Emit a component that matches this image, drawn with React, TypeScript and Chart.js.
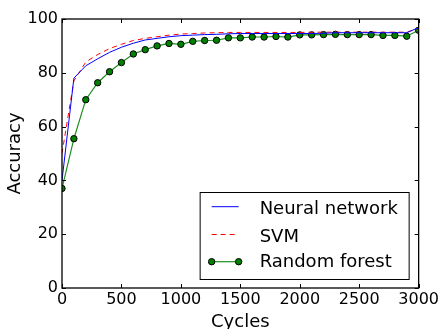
import React, { useEffect, useRef } from "react";
import { Chart, registerables } from "chart.js";

Chart.register(...registerables);

const cycles = [
  0, 100, 200, 300, 400, 500, 600, 700, 800, 900, 1000, 1100, 1200, 1300, 1400, 1500,
  1600, 1700, 1800, 1900, 2000, 2100, 2200, 2300, 2400, 2500, 2600, 2700, 2800, 2900, 3000,
];
const neuralNetwork = [
  40, 78, 82.6, 85.2, 87.6, 89.5, 91.0, 92.2, 92.8, 93.4, 93.8, 94.0, 94.2, 94.3, 94.5, 94.6,
  94.6, 94.6, 94.6, 94.6, 94.6, 94.6, 94.7, 94.9, 94.9, 94.9, 94.9, 94.9, 94.9, 94.9, 96.8,
];
const svm = [
  50, 77, 84, 86.8, 89, 90.6, 92.0, 92.8, 93.4, 94.0, 94.4, 94.6, 94.8, 94.9, 95.0, 95.0,
  95.0, 95.0, 95.0, 95.0, 95.0, 95.1, 95.1, 95.1, 95.1, 95.1, 95.1, 95.1, 95.1, 95.1, 96.6,
];
const randomForest = [
  37, 55.5, 70, 76.3, 80.4, 83.8, 87.0, 88.6, 90.0, 90.9, 90.6, 91.7, 92.0, 92.1, 93.0, 93.0,
  93.3, 93.3, 93.5, 93.3, 94.1, 94.1, 94.2, 94.3, 94.2, 94.2, 94.2, 93.9, 93.9, 93.6, 95.8,
];
const seriesNames = ["Neural network", "SVM", "Random forest"];
const xTicks = [0, 500, 1000, 1500, 2000, 2500, 3000];
const yTicks = [0, 20, 40, 60, 80, 100];
const xLabel = "Cycles";
const yLabel = "Accuracy";

const FONT = "'DejaVu Sans', sans-serif";

export default function App() {
  const ref = useRef<HTMLCanvasElement>(null);

  useEffect(() => {
    const canvas = ref.current;
    if (!canvas) return;

    const framePlugin = {
      id: "frameTicks",
      afterDatasetsDraw(chart: any) {
        const { ctx, chartArea: a, scales } = chart;
        ctx.save();
        ctx.strokeStyle = "#000";
        ctx.lineWidth = 1;
        ctx.beginPath();
        for (const v of xTicks) {
          const x = Math.round(scales.x.getPixelForValue(v)) + 0.5;
          ctx.moveTo(x, a.bottom);
          ctx.lineTo(x, a.bottom - 4);
          ctx.moveTo(x, a.top);
          ctx.lineTo(x, a.top + 4);
        }
        for (const v of yTicks) {
          const y = Math.round(scales.y.getPixelForValue(v)) + 0.5;
          ctx.moveTo(a.left, y);
          ctx.lineTo(a.left + 4, y);
          ctx.moveTo(a.right, y);
          ctx.lineTo(a.right - 4, y);
        }
        ctx.stroke();
        ctx.lineWidth = 1.3;
        ctx.strokeRect(a.left, a.top, a.right - a.left, a.bottom - a.top);
        ctx.restore();
      },
    };

    const legendPlugin = {
      id: "boxLegend",
      afterDraw(chart: any) {
        const { ctx, chartArea: a } = chart;
        const right = a.right - 10;
        const bottom = a.bottom - 9;
        const left = right - 209;
        const top = bottom - 87;
        ctx.save();
        ctx.fillStyle = "#fff";
        ctx.fillRect(left, top, right - left, bottom - top);
        ctx.strokeStyle = "#000";
        ctx.lineWidth = 1;
        ctx.strokeRect(left + 0.5, top + 0.5, right - left, bottom - top);
        const rows = [14.7, 42.5, 69.7];
        const baselines = [22, 49.7, 75.3];
        chart.data.datasets.forEach((ds: any, i: number) => {
          const y = top + rows[i];
          ctx.save();
          ctx.strokeStyle = ds.borderColor;
          ctx.lineWidth = ds.borderWidth;
          ctx.setLineDash(ds.borderDash || []);
          ctx.beginPath();
          ctx.moveTo(left + 12, y);
          ctx.lineTo(left + 39, y);
          ctx.stroke();
          ctx.restore();
          if (ds.pointRadius > 0) {
            for (const px of [left + 12, left + 39]) {
              ctx.beginPath();
              ctx.arc(px, y, ds.pointRadius, 0, Math.PI * 2);
              ctx.fillStyle = ds.pointBackgroundColor;
              ctx.fill();
              ctx.lineWidth = ds.pointBorderWidth;
              ctx.strokeStyle = ds.pointBorderColor;
              ctx.stroke();
            }
          }
          ctx.fillStyle = "#000";
          ctx.font = `18px ${FONT}`;
          ctx.textBaseline = "alphabetic";
          ctx.textAlign = "left";
          ctx.fillText(ds.label, left + 60, top + baselines[i]);
        });
        ctx.restore();
      },
    };

    const toPts = (vals: number[]) => cycles.map((c, i) => ({ x: c, y: vals[i] }));

    const chart = new Chart(canvas, {
      type: "line",
      data: {
        datasets: [
          {
            label: seriesNames[0],
            data: toPts(neuralNetwork),
            borderColor: "#0000ff",
            borderWidth: 1,
            pointRadius: 0,
            pointHoverRadius: 0,
            fill: false,
            tension: 0,
            clip: 0,
          },
          {
            label: seriesNames[1],
            data: toPts(svm),
            borderColor: "#ff0000",
            borderWidth: 1,
            borderDash: [5, 4],
            pointRadius: 0,
            pointHoverRadius: 0,
            fill: false,
            tension: 0,
            clip: 0,
          },
          {
            label: seriesNames[2],
            data: toPts(randomForest),
            borderColor: "#1f8f1f",
            borderWidth: 1.2,
            pointRadius: 3.2,
            pointBackgroundColor: "#008000",
            pointBorderColor: "#000",
            pointBorderWidth: 1,
            fill: false,
            tension: 0,
            clip: 0,
          },
        ] as any,
      },
      options: {
        animation: false,
        responsive: false,
        devicePixelRatio: 1,
        events: [],
        layout: { padding: { top: 19, right: 22, left: 0, bottom: 0 } },
        plugins: {
          legend: { display: false },
          tooltip: { enabled: false },
        },
        scales: {
          x: {
            type: "linear",
            min: 0,
            max: 3000,
            afterBuildTicks: (s: any) => {
              s.ticks = xTicks.map((v) => ({ value: v }));
            },
            afterFit: (s: any) => {
              s.height = 57;
            },
            ticks: {
              font: { family: FONT, size: 16 },
              color: "#000",
              padding: 2,
              maxRotation: 0,
              autoSkip: false,
              callback: (v: any) => String(v),
            },
            grid: { display: false, drawTicks: false },
            border: { display: false },
            title: {
              display: true,
              text: xLabel,
              color: "#000",
              font: { family: FONT, size: 18 },
              padding: { top: 0, bottom: 12 },
            },
          },
          y: {
            type: "linear",
            min: 0,
            max: 100,
            afterBuildTicks: (s: any) => {
              s.ticks = yTicks.map((v) => ({ value: v }));
            },
            afterFit: (s: any) => {
              s.width = 62;
            },
            ticks: {
              font: { family: FONT, size: 16 },
              color: "#000",
              padding: 4,
              autoSkip: false,
              callback: (v: any) => String(v),
            },
            grid: { display: false, drawTicks: false },
            border: { display: false },
            title: {
              display: true,
              text: yLabel,
              color: "#000",
              font: { family: FONT, size: 18 },
              padding: { top: 5, bottom: 0 },
            },
          },
        },
      } as any,
      plugins: [framePlugin, legendPlugin],
    });

    return () => chart.destroy();
  }, []);

  return (
    <div style={{ position: "fixed", left: 0, top: 0, width: 441, height: 345, background: "#fff" }}>
      <canvas ref={ref} width={441} height={345} style={{ display: "block", width: 441, height: 345 }} />
    </div>
  );
}
